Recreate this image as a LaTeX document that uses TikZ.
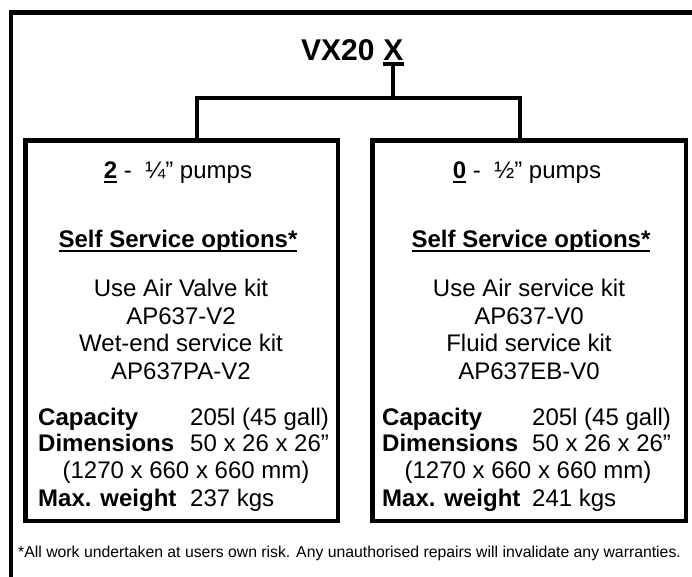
\documentclass[tikz,border=0pt]{standalone}
\usepackage{fontspec}
\setmainfont{Liberation Sans}
\newsavebox\ulbox
\newcommand{\undl}[1]{\sbox\ulbox{#1}\rlap{\rule[-5pt]{\wd\ulbox}{2pt}}\usebox\ulbox}
\tikzset{
	frameline/.style={line width=4.5pt},
	connector/.style={line width=4pt},
	kitbox/.style={draw,line width=4.5pt,minimum height=380.5pt,inner sep=0pt},
	titletext/.style={font=\fontsize{30}{36}\selectfont\bfseries,inner sep=0pt,anchor=base west},
	boxtext/.style={font=\fontsize{24}{28}\selectfont,inner sep=0pt,anchor=base},
	spec/.style={boxtext,anchor=base west},
	footer/.style={font=\fontsize{15.8}{18}\selectfont,inner sep=0pt,anchor=base west}
}
\begin{document}
\begin{tikzpicture}[x=1pt,y=-1pt]
			\useasboundingbox (0,0) rectangle (692,576);
			\begin{scope}
			\clip (0,0) rectangle (692,576);
			\draw[frameline] (10.8,12.5) rectangle (720,600);
			\end{scope}
			% title
			\node[titletext] (title) at (301,60) {VX20};
			\node[titletext] (titlex) at ([xshift=8.3pt]title.base east) {X};
			% boxes
			\node[kitbox,minimum width=312.5pt] (leftkit) at (181.5,330.5) {};
			\node[kitbox,minimum width=313.5pt] (rightkit) at (529,330.5) {};
			% connectors
			\coordinate (lbend) at (197,98);
			\coordinate (rbend) at (520,98);
			\draw[connector] ([yshift=-4pt]titlex.south west)--([yshift=-4pt]titlex.south east);
			\draw[connector] ([yshift=-4pt]titlex.south)--(titlex.south |- lbend);
			\draw[connector] ([xshift=-2pt]lbend)--([xshift=2pt]rbend);
			\draw[connector] (lbend)--(lbend |- leftkit.north);
			\draw[connector] (rbend)--(rbend |- rightkit.north);
			% left box
			\node[boxtext] (lpumps) at (178,178) {\undl{\textbf{2}} -~\ ¼” pumps};
			\node[boxtext] (lself) at (178,247) {\undl{\textbf{Self Service options*}}};
			\node[boxtext] (lkit1) at (181,296) {Use Air Valve kit};
			\node[boxtext] (lcode1) at (181,324) {AP637-V2};
			\node[boxtext] (lkit2) at (181,351) {Wet-end service kit};
			\node[boxtext] (lcode2) at (181,379) {AP637PA-V2};
			\node[spec] (lcap) at (38,425) {\textbf{Capacity}};
			\node[spec] (lcapv) at (190,425) {205l (45 gall)};
			\node[spec] (ldim) at (38,451) {\textbf{Dimensions}};
			\node[spec] (ldimv) at (190,451) {50 x 26 x 26”};
			\node[boxtext] (ldimmm) at (186,478) {(1270 x 660 x 660 mm)};
			\node[spec] (lwt) at (38,506) {\textbf{Max. weight}};
			\node[spec] (lwtv) at (190,506) {237 kgs};
			% right box
			\node[boxtext] (rpumps) at (527,178) {\undl{\textbf{0}} -~\ ½” pumps};
			\node[boxtext] (rself) at (531,247) {\undl{\textbf{Self Service options*}}};
			\node[boxtext] (rkit1) at (529,296) {Use Air service kit};
			\node[boxtext] (rcode1) at (529,324) {AP637-V0};
			\node[boxtext] (rkit2) at (529,351) {Fluid service kit};
			\node[boxtext] (rcode2) at (529,379) {AP637EB-V0};
			\node[spec] (rcap) at (382,425) {\textbf{Capacity}};
			\node[spec] (rcapv) at (532,425) {205l (45 gall)};
			\node[spec] (rdim) at (382,451) {\textbf{Dimensions}};
			\node[spec] (rdimv) at (532,451) {50 x 26 x 26”};
			\node[boxtext] (rdimmm) at (528,478) {(1270 x 660 x 660 mm)};
			\node[spec] (rwt) at (382,506) {\textbf{Max. weight}};
			\node[spec] (rwtv) at (532,506) {241 kgs};
			% footnote
			\node[footer] (note) at (18,557) {*All work undertaken at users own risk. Any unauthorised repairs will invalidate any warranties.};
			\end{tikzpicture}
\end{document}
